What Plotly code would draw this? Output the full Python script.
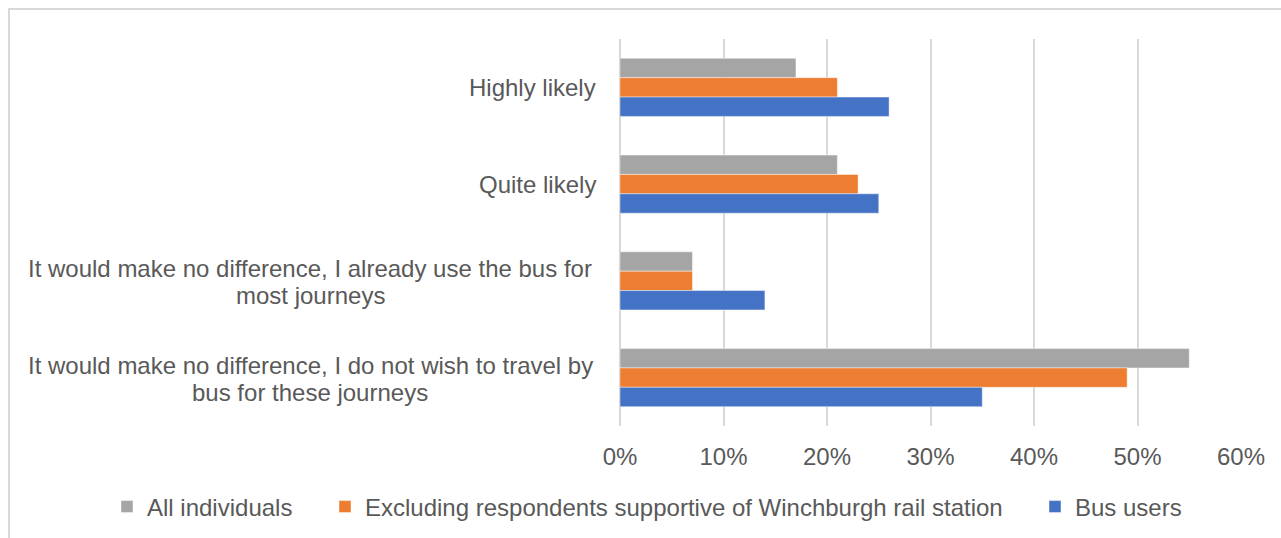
import plotly.graph_objects as go

categories = [
    "Highly likely",
    "Quite likely",
    "It would make no difference, I already use the bus for<br>most journeys",
    "It would make no difference, I do not wish to travel by<br>bus for these journeys",
]
series_names = [
    "All individuals",
    "Excluding respondents supportive of Winchburgh rail station",
    "Bus users",
]
all_individuals = [0.17, 0.21, 0.07, 0.55]
excluding_rail = [0.21, 0.23, 0.07, 0.49]
bus_users = [0.26, 0.25, 0.14, 0.35]
series_values = [all_individuals, excluding_rail, bus_users]
series_colors = ["#A5A5A5", "#ED7D31", "#4472C4"]
x_tick_values = [0, 0.1, 0.2, 0.3, 0.4, 0.5, 0.6]
x_tick_labels = ["0%", "10%", "20%", "30%", "40%", "50%", "60%"]

W, H = 1281, 538
ML, MR, MT, MB = 620, 40, 39, 112
PW, PH = W - ML - MR, H - MT - MB

def px_x(px):
    return (px - ML) / PW

def px_y(py):
    return (H - MB - py) / PH

FONT = "Liberation Sans, Arial, sans-serif"
FS = 24
LINE_H = 27
TXT = "#595959"
GRID = "#D9D9D9"

legend_ids = ["legend", "legend2", "legend3"]
legend_left_px = [107, 325, 1035]

fig = go.Figure()
for name, vals, col, lid in zip(series_names, series_values, series_colors, legend_ids):
    fig.add_trace(go.Bar(
        y=categories, x=vals, name=name, orientation="h", legend=lid,
        marker=dict(color=col, line=dict(color="rgba(255,255,255,0.55)", width=0.8)),
        hoverinfo="x+y",
    ))

annotations = []
for c in categories:
    lines = c.split("<br>")
    if len(lines) == 1:
        annotations.append(dict(
            text=c, xref="paper", yref="y", x=0, y=c,
            xanchor="right", yanchor="middle", xshift=-22, showarrow=False,
            font=dict(family=FONT, size=FS, color=TXT),
        ))
    else:
        n = len(lines)
        for i, ln in enumerate(lines):
            annotations.append(dict(
                text=ln, xref="paper", yref="y", x=px_x(310), y=c,
                xanchor="center", yanchor="middle",
                yshift=(n - 1) / 2 * LINE_H - i * LINE_H - 1.5, showarrow=False,
                font=dict(family=FONT, size=FS, color=TXT),
            ))

legend_layout = {}
for lid, lx in zip(legend_ids, legend_left_px):
    legend_layout[lid] = dict(
        orientation="h", xref="paper", yref="paper",
        x=px_x(lx), xanchor="left", y=px_y(507), yanchor="middle",
        font=dict(family=FONT, size=FS, color=TXT), itemwidth=30,
        bgcolor="rgba(0,0,0,0)",
    )

fig.update_layout(
    width=W, height=H,
    margin=dict(l=ML, r=MR, t=MT, b=MB, pad=0, autoexpand=False),
    paper_bgcolor="white", plot_bgcolor="white",
    barmode="group", bargap=0.4, bargroupgap=0,
    font=dict(family=FONT, size=FS, color=TXT),
    xaxis=dict(
        range=[0, 0.6], tickvals=x_tick_values, ticktext=x_tick_labels,
        showgrid=True, gridcolor=GRID, gridwidth=1.5,
        zeroline=True, zerolinecolor=GRID, zerolinewidth=1.5,
        showline=False, ticks="", ticklabelstandoff=14,
        tickfont=dict(family=FONT, size=FS, color=TXT), fixedrange=True,
    ),
    yaxis=dict(
        type="category", autorange="reversed", showticklabels=False,
        showgrid=False, zeroline=False, showline=False, ticks="", fixedrange=True,
    ),
    annotations=annotations,
    shapes=[dict(
        type="rect", xref="paper", yref="paper",
        x0=px_x(9), x1=px_x(1300), y0=px_y(560), y1=px_y(9),
        line=dict(color=GRID, width=2), fillcolor="rgba(0,0,0,0)", layer="below",
    )],
    showlegend=True,
    **legend_layout,
)

fig.write_html("out.html")
